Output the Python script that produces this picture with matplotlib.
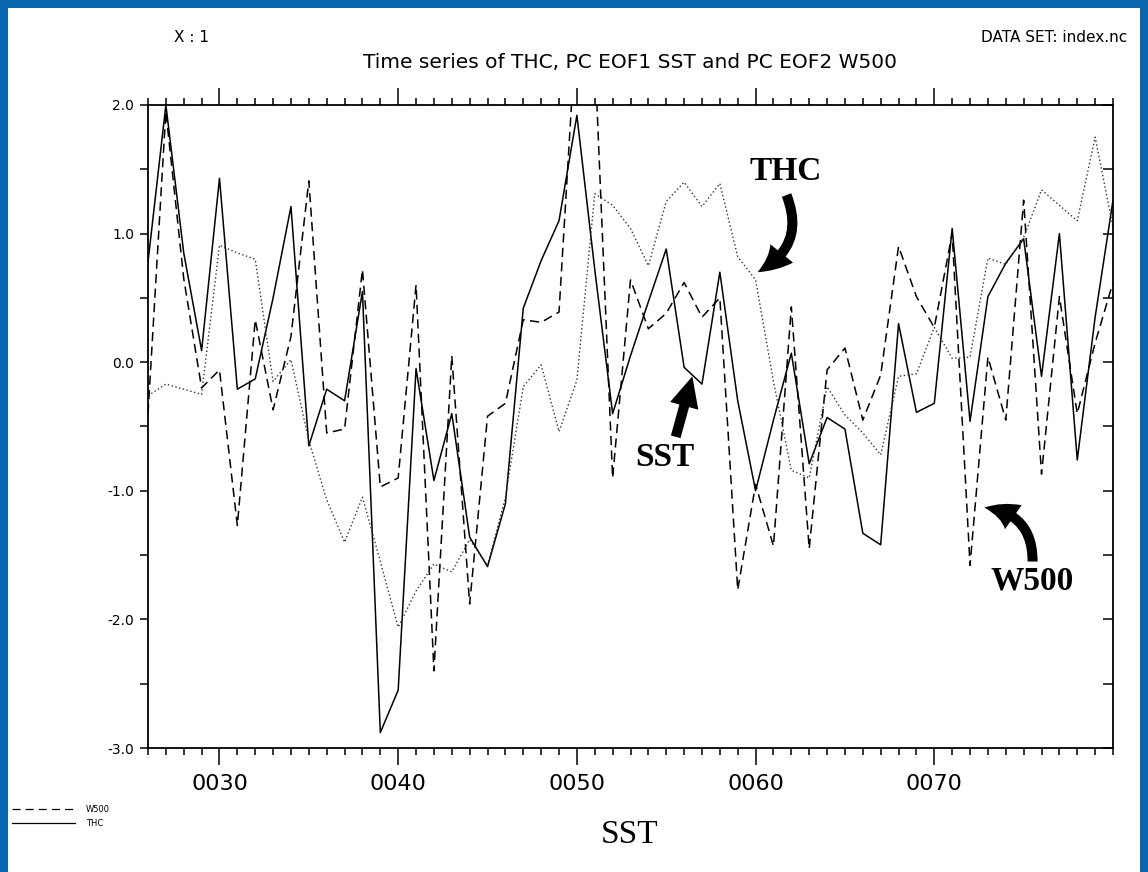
import matplotlib
matplotlib.use('Agg')
import matplotlib.pyplot as plt
from matplotlib.patches import Rectangle, FancyArrowPatch
from matplotlib.lines import Line2D
from matplotlib.ticker import MultipleLocator, FixedLocator

plt.rcParams['axes.unicode_minus'] = False
plt.rcParams['font.family'] = ['DejaVu Sans']

# ---- data ----
years = [26, 27, 28, 29, 30, 31, 32, 33, 34, 35, 36, 37, 38, 39, 40, 41, 42, 43, 44, 45,
         46, 47, 48, 49, 50, 51, 52, 53, 54, 55, 56, 57, 58, 59, 60, 61, 62, 63, 64, 65,
         66, 67, 68, 69, 70, 71, 72, 73, 74, 75, 76, 77, 78, 79, 80]

thc = [0.78, 2.00, 0.85, 0.09, 1.43, -0.21, -0.13, 0.50, 1.21, -0.65,
       -0.21, -0.30, 0.55, -2.88, -2.55, -0.05, -0.92, -0.40, -1.36, -1.59,
       -1.10, 0.42, 0.79, 1.10, 1.92, 0.72, -0.40, 0.05, 0.47, 0.88,
       -0.04, -0.17, 0.70, -0.30, -1.00, -0.45, 0.07, -0.79, -0.43, -0.52,
       -1.33, -1.42, 0.30, -0.39, -0.32, 1.04, -0.46, 0.51, 0.77, 0.96,
       -0.11, 1.00, -0.76, 0.35, 1.26]

w500 = [-0.40, 1.95, 0.65, -0.20, -0.06, -1.27, 0.33, -0.37, 0.20, 1.41,
        -0.55, -0.52, 0.72, -0.97, -0.90, 0.60, -2.40, 0.05, -1.88, -0.42,
        -0.32, 0.33, 0.31, 0.39, 2.70, 2.40, -0.90, 0.64, 0.26, 0.38,
        0.62, 0.35, 0.50, -1.77, -0.95, -1.43, 0.43, -1.45, -0.06, 0.11,
        -0.45, -0.10, 0.90, 0.51, 0.27, 1.00, -1.58, 0.04, -0.45, 1.26,
        -0.87, 0.51, -0.40, 0.15, 0.62]

sst = [-0.26, -0.17, -0.21, -0.25, 0.91, 0.85, 0.80, -0.15, 0.02, -0.61,
       -1.07, -1.40, -1.05, -1.55, -2.06, -1.78, -1.57, -1.63, -1.38, -1.58,
       -1.05, -0.19, -0.02, -0.54, -0.14, 1.31, 1.22, 1.04, 0.75, 1.25,
       1.40, 1.21, 1.39, 0.82, 0.64, -0.15, -0.84, -0.90, -0.19, -0.41,
       -0.55, -0.72, -0.11, -0.09, 0.27, 0.03, 0.04, 0.81, 0.76, 0.97,
       1.34, 1.22, 1.10, 1.75, 1.05]

x_major = [30, 40, 50, 60, 70]
x_labels = ['0030', '0040', '0050', '0060', '0070']
y_major = [-3.0, -2.0, -1.0, 0.0, 1.0, 2.0]
y_labels = ['-3.0', '-2.0', '-1.0', '0.0', '1.0', '2.0']

# ---- figure ----
W, H = 1148, 872
fig = plt.figure(figsize=(W / 100, H / 100), dpi=100, facecolor='#0a67b0')
fig.patches.append(Rectangle((8 / W, 0), (W - 16) / W, (H - 8) / H,
                             transform=fig.transFigure, facecolor='white',
                             edgecolor='none', zorder=-10))

L, R, T, B = 148, 1113, 105, 748
ax = fig.add_axes([L / W, (H - B) / H, (R - L) / W, (B - T) / H])
ax.set_xlim(26, 80)
ax.set_ylim(-3, 2)

ax.plot(years, w500, color='black', lw=1.1, linestyle=(0, (6, 3.5)))
ax.plot(years, thc, color='black', lw=1.1)
ax.plot(years, sst, color='#333333', lw=1.0, linestyle=(0, (1, 1.8)))

for s in ax.spines.values():
    s.set_linewidth(1.3)

ax.xaxis.set_major_locator(FixedLocator(x_major))
ax.set_xticklabels(x_labels)
ax.xaxis.set_minor_locator(MultipleLocator(1))
ax.tick_params(axis='x', which='both', direction='out', top=True, bottom=True, width=1.1)
ax.tick_params(axis='x', which='major', length=12, labelsize=16, pad=7)
ax.tick_params(axis='x', which='minor', length=5)

ax.yaxis.set_major_locator(FixedLocator(y_major))
ax.set_yticklabels(y_labels)
ax.yaxis.set_minor_locator(MultipleLocator(0.5))
ax.tick_params(axis='y', which='both', direction='out', left=True, right=False,
               length=6, width=1.1, labelsize=10, pad=4)

ax2 = ax.twinx()
ax2.set_ylim(-3, 2)
ax2.yaxis.set_major_locator(MultipleLocator(0.5))
ax2.tick_params(axis='y', direction='in', length=7, width=1.1, labelright=False)
for s in ax2.spines.values():
    s.set_visible(False)

# header texts
fig.text(174 / W, 1 - 37 / H, 'X : 1', fontsize=11, ha='left', va='center')
fig.text(1127 / W, 1 - 37 / H, 'DATA SET: index.nc', fontsize=11, ha='right', va='center')
fig.text(630 / W, 1 - 62 / H, 'Time series of THC, PC EOF1 SST and PC EOF2 W500',
         fontsize=14.5, ha='center', va='center')

# x label
fig.text(630 / W, 1 - 835 / H, 'SST', family='Liberation Serif', fontsize=24,
         ha='center', va='center')

# legend (bottom-left)
fig.lines.append(Line2D([12 / W, 75 / W], [1 - 809 / H, 1 - 809 / H], transform=fig.transFigure,
                        color='black', lw=0.9, linestyle=(0, (6.5, 4))))
fig.lines.append(Line2D([12 / W, 75 / W], [1 - 823 / H, 1 - 823 / H], transform=fig.transFigure,
                        color='black', lw=0.9))
fig.text(86 / W, 1 - 809 / H, 'W500', fontsize=6, ha='left', va='center')
fig.text(86 / W, 1 - 823 / H, 'THC', fontsize=6, ha='left', va='center')

# annotations
bold = dict(family='Liberation Serif', fontweight='bold', fontsize=24,
            ha='center', va='center', zorder=6)
ax.text(61.68, 1.48, 'THC', **bold)
ax.text(54.9, -0.74, 'SST', **bold)
ax.text(75.45, -1.70, 'W500', **bold)

astyle = 'simple,head_length=1.1,head_width=1.05,tail_width=0.36'
for (p0, p1, rad) in [((61.73, 1.30), (60.11, 0.70), -0.45),
                      ((55.53, -0.58), (56.46, -0.11), 0.0),
                      ((75.50, -1.55), (72.80, -1.13), 0.45)]:
    arr = FancyArrowPatch(p0, p1, arrowstyle=astyle, mutation_scale=20,
                          connectionstyle=f'arc3,rad={rad}', color='black',
                          lw=0, zorder=6, shrinkA=0, shrinkB=0)
    ax.add_patch(arr)

fig.savefig('out.png', dpi=100, facecolor=fig.get_facecolor())
